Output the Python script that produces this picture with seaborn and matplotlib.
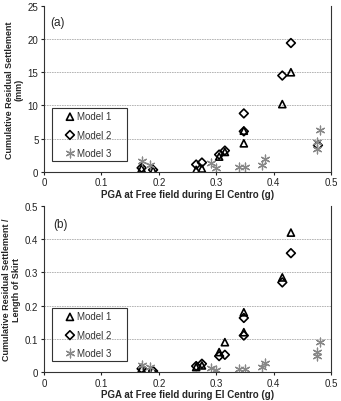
import pandas as pd
import matplotlib
matplotlib.use('Agg')
import matplotlib.pyplot as plt
from matplotlib.patches import Rectangle
import seaborn as sns

# (a) settlement in mm
m1_pga_a = [0.17, 0.19, 0.265, 0.275, 0.305, 0.315, 0.348, 0.348, 0.415, 0.43]
m1_set_a = [0.5, 0.2, 0.3, 0.5, 2.3, 3.0, 6.2, 4.3, 10.2, 15.0]
m2_pga_a = [0.17, 0.19, 0.265, 0.275, 0.305, 0.315, 0.348, 0.348, 0.415, 0.43, 0.477]
m2_set_a = [0.6, 0.3, 1.1, 1.4, 2.6, 3.2, 8.8, 6.1, 14.5, 19.4, 4.0]
m3_pga_a = [0.17, 0.185, 0.29, 0.30, 0.34, 0.35, 0.38, 0.385, 0.475, 0.475, 0.48]
m3_set_a = [1.7, 1.0, 1.3, 0.6, 0.8, 0.8, 1.0, 2.0, 3.4, 4.5, 6.3]

# (b) settlement / skirt length
m1_pga_b = [0.17, 0.19, 0.265, 0.275, 0.305, 0.315, 0.348, 0.348, 0.415, 0.43]
m1_set_b = [0.01, 0.005, 0.015, 0.02, 0.06, 0.09, 0.18, 0.12, 0.285, 0.42]
m2_pga_b = [0.17, 0.19, 0.265, 0.275, 0.305, 0.315, 0.348, 0.348, 0.415, 0.43]
m2_set_b = [0.01, 0.003, 0.018, 0.025, 0.048, 0.052, 0.163, 0.11, 0.27, 0.358]
m3_pga_b = [0.17, 0.185, 0.29, 0.30, 0.34, 0.35, 0.38, 0.385, 0.475, 0.475, 0.48]
m3_set_b = [0.022, 0.015, 0.012, 0.005, 0.01, 0.01, 0.015, 0.028, 0.048, 0.06, 0.09]

sns.set_style('white')
plt.rcParams['font.family'] = ['Liberation Sans', 'DejaVu Sans']

fig = plt.figure(figsize=(3.41, 4.02), dpi=100)
ax_a = fig.add_axes([0.129, 0.570, 0.842, 0.413])
ax_b = fig.add_axes([0.129, 0.072, 0.842, 0.413])

styles = {
    'Model 1': dict(marker='^', color='black', s=26, lw=1.2),
    'Model 2': dict(marker='D', color='black', s=20, lw=1.2),
    'Model 3': dict(marker=(6, 2, 0), color='#888888', s=40, lw=0.9),
}


def draw(ax, data, ymax, yticks, ylabel, tag, tag_xy):
    for name, (xs, ys) in data.items():
        st = styles[name]
        df = pd.DataFrame({'pga': xs, 'val': ys})
        if name == 'Model 3':
            sns.scatterplot(data=df, x='pga', y='val', ax=ax, marker=st['marker'],
                            color=st['color'], s=st['s'], linewidths=st['lw'], label=name)
        else:
            sns.scatterplot(data=df, x='pga', y='val', ax=ax, marker=st['marker'],
                            facecolor='none', edgecolor=st['color'], s=st['s'],
                            linewidth=st['lw'], label=name)
    ax.set_xlim(0, 0.5)
    ax.set_ylim(0, ymax)
    ax.set_xticks([0, 0.1, 0.2, 0.3, 0.4, 0.5])
    ax.set_xticklabels(['0', '0.1', '0.2', '0.3', '0.4', '0.5'])
    ax.set_yticks(yticks)
    ax.set_yticklabels([('%g' % t) for t in yticks])
    for t in yticks[1:-1]:
        ax.axhline(t, color='#aaaaaa', lw=0.6, ls=(0, (2, 1)), zorder=0)
    ax.tick_params(labelsize=7, colors='#222222', length=2, pad=2, direction='out',
                   left=True, bottom=True)
    for side in ['left', 'bottom', 'right']:
        ax.spines[side].set_color('#333333')
        ax.spines[side].set_linewidth(0.8)
    ax.spines['top'].set_visible(False)
    ax.set_xlabel('PGA at Free field during El Centro (g)', fontsize=7,
                  fontweight='bold', labelpad=1)
    ax.set_ylabel(ylabel, fontsize=6.5, fontweight='bold', labelpad=3,
                  linespacing=1.1)
    ax.text(tag_xy[0], tag_xy[1], tag, transform=ax.transAxes, fontsize=8.5,
            va='center')
    leg = ax.legend(loc='center left', bbox_to_anchor=(0.07, 0.225), fontsize=7,
                    frameon=False, handletextpad=0.15, borderaxespad=0,
                    handlelength=1.2, borderpad=0, labelspacing=0.85)
    for t in leg.get_texts():
        t.set_color('#333333')
    ax.add_patch(Rectangle((0.028, 0.065), 0.261, 0.322, transform=ax.transAxes,
                           fill=False, edgecolor='#333333', lw=0.8, zorder=5))


draw(ax_a,
     {'Model 1': (m1_pga_a, m1_set_a), 'Model 2': (m2_pga_a, m2_set_a),
      'Model 3': (m3_pga_a, m3_set_a)},
     25, [0, 5, 10, 15, 20, 25],
     'Cumulative Residual Settlement\n(mm)', '(a)', (0.022, 0.90))
draw(ax_b,
     {'Model 1': (m1_pga_b, m1_set_b), 'Model 2': (m2_pga_b, m2_set_b),
      'Model 3': (m3_pga_b, m3_set_b)},
     0.5, [0, 0.1, 0.2, 0.3, 0.4, 0.5],
     'Cumulative Residual Settlement /\nLength of Skirt', '(b)', (0.032, 0.89))

fig.savefig('out.png', dpi=100)
